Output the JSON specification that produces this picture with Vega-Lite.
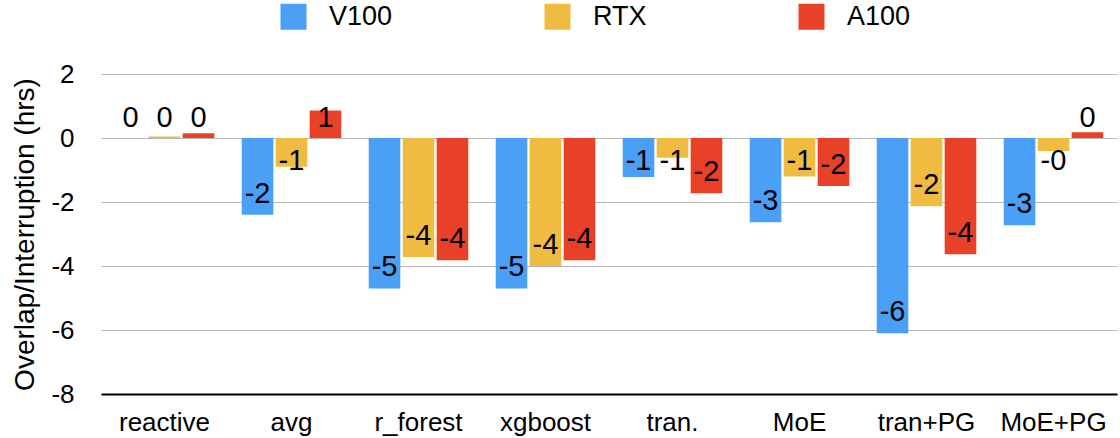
{
  "$schema": "https://vega.github.io/schema/vega-lite/v6.json",
  "autosize": {"type": "none"},
  "padding": {"left": 101, "top": 74, "right": 3, "bottom": 44},
  "width": 1016,
  "height": 320,
  "config": {
    "font": "Liberation Sans",
    "view": {"stroke": null}
  },
  "data": {
    "values": [
      {"category": "reactive", "gpu": "V100", "value": 0, "label": "0"},
      {"category": "reactive", "gpu": "RTX", "value": 0.05, "label": "0"},
      {"category": "reactive", "gpu": "A100", "value": 0.15, "label": "0"},
      {"category": "avg", "gpu": "V100", "value": -2.4, "label": "-2"},
      {"category": "avg", "gpu": "RTX", "value": -0.9, "label": "-1"},
      {"category": "avg", "gpu": "A100", "value": 0.86, "label": "1"},
      {"category": "r_forest", "gpu": "V100", "value": -4.7, "label": "-5"},
      {"category": "r_forest", "gpu": "RTX", "value": -3.72, "label": "-4"},
      {"category": "r_forest", "gpu": "A100", "value": -3.82, "label": "-4"},
      {"category": "xgboost", "gpu": "V100", "value": -4.7, "label": "-5"},
      {"category": "xgboost", "gpu": "RTX", "value": -4.0, "label": "-4"},
      {"category": "xgboost", "gpu": "A100", "value": -3.82, "label": "-4"},
      {"category": "tran.", "gpu": "V100", "value": -1.22, "label": "-1"},
      {"category": "tran.", "gpu": "RTX", "value": -0.62, "label": "-1"},
      {"category": "tran.", "gpu": "A100", "value": -1.73, "label": "-2"},
      {"category": "MoE", "gpu": "V100", "value": -2.63, "label": "-3"},
      {"category": "MoE", "gpu": "RTX", "value": -1.2, "label": "-1"},
      {"category": "MoE", "gpu": "A100", "value": -1.5, "label": "-2"},
      {"category": "tran+PG", "gpu": "V100", "value": -6.1, "label": "-6"},
      {"category": "tran+PG", "gpu": "RTX", "value": -2.13, "label": "-2"},
      {"category": "tran+PG", "gpu": "A100", "value": -3.63, "label": "-4"},
      {"category": "MoE+PG", "gpu": "V100", "value": -2.73, "label": "-3"},
      {"category": "MoE+PG", "gpu": "RTX", "value": -0.41, "label": "-0"},
      {"category": "MoE+PG", "gpu": "A100", "value": 0.18, "label": "0"}
    ]
  },
  "encoding": {
    "x": {
      "field": "category",
      "type": "nominal",
      "sort": ["reactive", "avg", "r_forest", "xgboost", "tran.", "MoE", "tran+PG", "MoE+PG"],
      "scale": {"paddingInner": 0.2, "paddingOuter": 0.1},
      "axis": {
        "title": null,
        "labelAngle": 0,
        "labelFontSize": 26,
        "labelColor": "#000",
        "labelPadding": 15,
        "ticks": false,
        "domain": true,
        "domainColor": "#000",
        "domainWidth": 2,
        "grid": false
      }
    },
    "xOffset": {
      "field": "gpu",
      "type": "nominal",
      "sort": ["V100", "RTX", "A100"],
      "scale": {"paddingInner": 0.07, "paddingOuter": 0.03}
    }
  },
  "layer": [
    {
      "mark": {"type": "bar"},
      "encoding": {
        "y": {
          "field": "value",
          "type": "quantitative",
          "scale": {"domain": [-8, 2], "nice": false},
          "axis": {
            "title": "Overlap/Interruption (hrs)",
            "titleFontSize": 28,
            "titleFontWeight": "normal",
            "titleColor": "#000",
            "titlePadding": 11,
            "values": [-8, -6, -4, -2, 0, 2],
            "labelExpr": "replace(datum.label, '\u2212', '-')",
            "labelFontSize": 26,
            "labelColor": "#000",
            "labelPadding": 27,
            "ticks": false,
            "domain": false,
            "grid": true,
            "gridColor": "#b8b8b8",
            "gridWidth": 1
          }
        },
        "color": {
          "field": "gpu",
          "type": "nominal",
          "sort": ["V100", "RTX", "A100"],
          "scale": {"domain": ["V100", "RTX", "A100"], "range": ["#4a9ff6", "#efbc41", "#e84127"]},
          "legend": {
            "orient": "none",
            "legendX": 179,
            "legendY": -71,
            "direction": "horizontal",
            "columns": 3,
            "title": null,
            "symbolType": "square",
            "symbolSize": 676,
            "symbolStrokeWidth": 0,
            "symbolOpacity": 1,
            "labelFontSize": 27,
            "labelColor": "#000",
            "labelOffset": 22,
            "columnPadding": 151,
            "padding": 0
          }
        }
      }
    },
    {
      "transform": [{"filter": "datum.value >= 0"}],
      "mark": {"type": "text", "fontSize": 29, "baseline": "middle", "align": "center", "dy": -20, "color": "#000"},
      "encoding": {
        "y": {"datum": 0, "type": "quantitative"},
        "text": {"field": "label"}
      }
    },
    {
      "transform": [{"filter": "datum.value < 0 && datum.value > -1.3"}],
      "mark": {"type": "text", "fontSize": 29, "baseline": "middle", "align": "center", "dy": 23, "color": "#000"},
      "encoding": {
        "y": {"datum": 0, "type": "quantitative"},
        "text": {"field": "label"}
      }
    },
    {
      "transform": [{"filter": "datum.value <= -1.3"}],
      "mark": {"type": "text", "fontSize": 29, "baseline": "middle", "align": "center", "dy": -21, "color": "#000"},
      "encoding": {
        "y": {"field": "value", "type": "quantitative"},
        "text": {"field": "label"}
      }
    }
  ]
}
